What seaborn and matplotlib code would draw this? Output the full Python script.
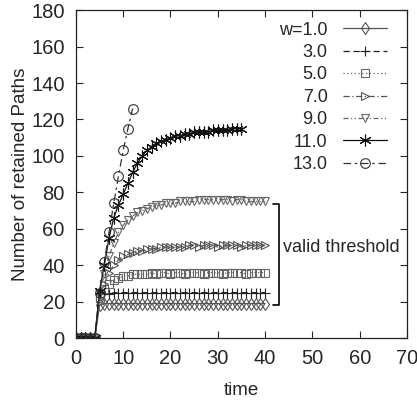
import numpy as np
import pandas as pd
import matplotlib
matplotlib.use("Agg")
import matplotlib.pyplot as plt
import seaborn as sns

sns.set_style("ticks")
plt.rcParams['font.family'] = ['Liberation Sans', 'DejaVu Sans']

# ---- data ----
time = list(range(0, 41))
zeros = [0, 0, 0, 0, 0]
w1 = zeros + [18, 19, 19, 19, 19, 19, 19, 19, 19, 19, 19, 19, 19, 19, 19, 19, 19, 19,
              19, 19, 19, 19, 19, 19, 19, 19, 19, 19, 19, 19, 19, 19, 19, 19, 19, 19]
w3 = zeros + [26, 24, 24, 25, 25, 25, 25, 25, 25, 25, 25, 25, 25, 25, 25, 25, 25, 25,
              25, 25, 25, 25, 25, 25, 25, 25, 25, 25, 25, 25, 25, 25, 25, 25, 25, 25]
w5 = zeros + [22, 27, 30, 32, 33, 34, 34, 35, 35, 35, 35, 36, 35, 36, 36, 35, 36, 36,
              35, 36, 36, 36, 35, 36, 36, 36, 35, 36, 36, 36, 36, 35, 36, 36, 36, 36]
w7 = zeros + [22, 30, 36, 40, 43, 45, 46, 47, 48, 48, 49, 49, 49, 50, 50, 50, 50, 50,
              50, 51, 51, 50, 51, 51, 51, 50, 51, 51, 51, 51, 50, 51, 51, 51, 51, 51]
w9 = zeros + [25, 35, 45, 52, 58, 62, 65, 67, 69, 70, 71, 72, 73, 73, 74, 74, 74, 75,
              75, 75, 75, 76, 76, 76, 76, 76, 76, 76, 75, 76, 76, 75, 75, 75, 75, 75]
w11 = zeros + [26, 40, 55, 66, 73, 79, 85, 91, 96, 100, 103, 105, 107, 108, 109, 110,
               111, 111, 112, 112, 113, 113, 113, 113, 114, 114, 114, 114, 115, 115, 115]
w13 = zeros + [25, 42, 58, 74, 89, 103, 115, 126]

labels = ["w=1.0", "3.0", "5.0", "7.0", "9.0", "11.0", "13.0"]
series = [w1, w3, w5, w7, w9, w11, w13]

markers = ["d", "+", "s", ">", "v", (6, 2, 0), "o"]
msizes = [6, 7, 6, 6, 6, 8.5, 7]
linestyles = ["-", (0, (5, 3)), (0, (1, 2)), (0, (5, 2, 1, 2)), (0, (4, 2, 1, 2, 1, 2)), "-", (0, (6, 3, 2, 3))]
colors = ["#555555", "#222222", "#666666", "#555555", "#666666", "#111111", "#333333"]

fig = plt.figure(figsize=(4.17, 4.05), dpi=100)
ax = fig.add_axes([0.182, 0.165, 0.794, 0.81])

for lab, ys, mk, ms, ls, c in zip(labels, series, markers, msizes, linestyles, colors):
    sns.lineplot(x=time[:len(ys)], y=ys, ax=ax, color=c, marker=mk, linestyle=ls,
                 markerfacecolor="none", markeredgecolor=c, markersize=ms,
                 markeredgewidth=0.8, linewidth=0.9, label=lab)

# bracket annotation
bx_left, bx_right = 41.7, 42.9
b_top, b_bot = 73.5, 18
ax.plot([bx_left, bx_right, bx_right, bx_left], [b_top, b_top, b_bot, b_bot],
        color="black", lw=1.2)
ax.text(43.8, 49.5, "valid threshold", fontsize=13, va="center", ha="left")

ax.set_xlim(0, 70)
ax.set_ylim(0, 180)
ax.set_xticks(range(0, 71, 10))
ax.set_yticks(range(0, 181, 20))
ax.tick_params(direction="in", length=5, top=True, right=True, labelsize=14.5, pad=8,
               width=0.8)
for s in ax.spines.values():
    s.set_visible(True)
    s.set_linewidth(0.9)
    s.set_color("#222222")
ax.set_xlabel("time", fontsize=13.5, labelpad=10)
ax.set_ylabel("Number of retained Paths", fontsize=13.5, labelpad=2)

leg = ax.legend(loc="upper right", frameon=False, markerfirst=False, fontsize=13,
                handlelength=2.45, handletextpad=0.85, labelspacing=0.3,
                borderpad=0, borderaxespad=0, bbox_to_anchor=(0.94, 0.965))

fig.savefig("out.png", dpi=100)
